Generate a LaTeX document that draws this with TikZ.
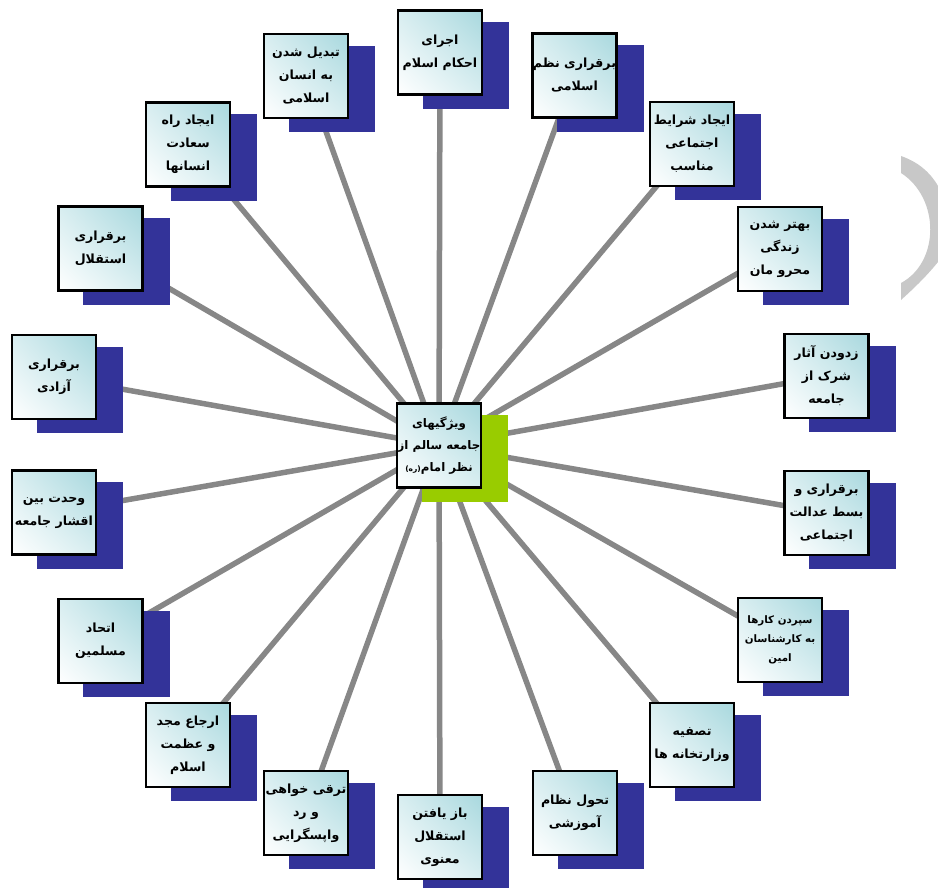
\documentclass[tikz,border=0pt]{standalone}
\usepackage{fontspec}
\usetikzlibrary{shadings}
\TeXXeTstate=1
\newfontfamily\arabicfont[Script=Arabic]{DejaVu Sans}
\newcommand{\fa}[1]{\beginR #1\endR}
\definecolor{spokegray}{RGB}{135,135,135}
\definecolor{shadowblue}{RGB}{51,51,153}
\definecolor{boxteal}{RGB}{168,216,222}
\definecolor{centergreen}{RGB}{153,204,0}
\definecolor{arcgray}{RGB}{200,200,200}
\pgfdeclarelayer{spokes}
\pgfdeclarelayer{shadows}
\pgfsetlayers{spokes,shadows,main}
\tikzset{
  wbox/.style={draw=black, line width=2.4pt, minimum width=84pt, minimum height=84pt,
    inner sep=0pt, align=center, shading=bilinear interpolation,
    upper right=boxteal, upper left=boxteal!45!white, lower right=boxteal!45!white,
    lower left=white,
    font=\arabicfont\bfseries\fontsize{12.6}{23}\selectfont},
  smallbox/.style={wbox, font=\arabicfont\bfseries\fontsize{10.3}{19}\selectfont},
  centerbox/.style={wbox, font=\arabicfont\bfseries\fontsize{11.8}{22}\selectfont},
  spoke/.style={draw=spokegray, line width=5.5pt},
  shadowfill/.style={fill=shadowblue},
  greenfill/.style={fill=centergreen}
}
\begin{document}
\begin{tikzpicture}[x=1pt,y=-1pt]
\useasboundingbox (0,0) rectangle (938,888);
% decorative arc
\fill[arcgray] (901,156) .. controls (918,162) and (930,172) .. (938,186)
  -- (938,262) .. controls (925,278) and (912,290) .. (901,300)
  -- (901,283) .. controls (940,262) and (940,198) .. (901,173) -- cycle;
% nodes
\node[centerbox] (c) at (439,445.5) {\fa{ویژگیهای}\\\fa{جامعه سالم از}\\\fa{نظر امام{\fontsize{7.5}{7.5}\selectfont(ره)}}};
\node[wbox] (b1) at (440,52.5) {\fa{اجرای}\\\fa{احکام اسلام}};
\node[wbox] (b2) at (306,76) {\fa{تبدیل شدن}\\\fa{به انسان}\\\fa{اسلامی}};
\node[wbox] (b3) at (188,144.5) {\fa{ایجاد راه}\\\fa{سعادت}\\\fa{انسانها}};
\node[wbox] (b4) at (574.5,75.5) {\fa{برقراری نظم}\\\fa{اسلامی}};
\node[wbox] (b5) at (692,144) {\fa{ایجاد شرایط}\\\fa{اجتماعی}\\\fa{مناسب}};
\node[wbox] (b6) at (780,249) {\fa{بهتر شدن}\\\fa{زندگی}\\\fa{محرو مان}};
\node[wbox] (b7) at (826.5,376) {\fa{زدودن آثار}\\\fa{شرک از}\\\fa{جامعه}};
\node[wbox] (b8) at (826.5,513) {\fa{برقراری و}\\\fa{بسط عدالت}\\\fa{اجتماعی}};
\node[smallbox] (b9) at (780,640) {\fa{سپردن کارها}\\\fa{به کارشناسان}\\\fa{امین}};
\node[wbox] (b10) at (692,745) {\fa{تصفیه}\\\fa{وزارتخانه ها}};
\node[wbox] (b11) at (575,813) {\fa{تحول نظام}\\\fa{آموزشی}};
\node[wbox] (b12) at (440,837) {\fa{باز یافتن}\\\fa{استقلال}\\\fa{معنوی}};
\node[wbox] (b13) at (306,813) {\fa{ترقی خواهی}\\\fa{و رد}\\\fa{واپسگرایی}};
\node[wbox] (b14) at (188,745) {\fa{ارجاع مجد}\\\fa{و عظمت}\\\fa{اسلام}};
\node[wbox] (b15) at (100.5,641) {\fa{اتحاد}\\\fa{مسلمین}};
\node[wbox] (b16) at (54,512.5) {\fa{وحدت بین}\\\fa{اقشار جامعه}};
\node[wbox] (b17) at (54,377) {\fa{برقراری}\\\fa{آزادی}};
\node[wbox] (b18) at (100.5,248.5) {\fa{برقراری}\\\fa{استقلال}};
% spokes and shadows
\begin{pgfonlayer}{spokes}
\foreach \k in {1,...,18} {\draw[spoke] (c.center) -- (b\k.center);}
\end{pgfonlayer}
\begin{pgfonlayer}{shadows}
\foreach \k in {1,...,18} {
  \fill[shadowfill] ([xshift=26pt,yshift=-13pt]b\k.south west) rectangle ([xshift=26pt,yshift=-13pt]b\k.north east);
}
\fill[greenfill] ([xshift=26pt,yshift=-13pt]c.south west) rectangle ([xshift=26pt,yshift=-13pt]c.north east);
\end{pgfonlayer}
\end{tikzpicture}
\end{document}
